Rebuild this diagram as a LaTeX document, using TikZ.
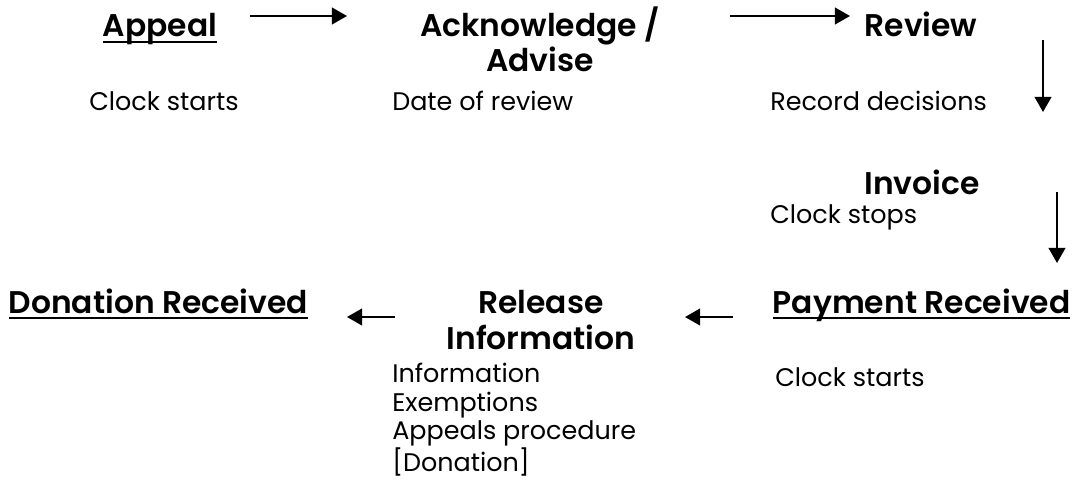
\documentclass[tikz,border=0pt]{standalone}
\usepackage{fontspec}
\setmainfont{Poppins}[BoldFont={Poppins SemiBold}]
\usetikzlibrary{arrows.meta}

\newsavebox{\headbox}
\newcommand{\ulhead}[1]{\sbox{\headbox}{#1}\rlap{\rule[-4pt]{\wd\headbox}{1.4pt}}\usebox{\headbox}}

\begin{document}
\begin{tikzpicture}[ ]
%Declaration of styles
	\tikzstyle{head} = [font=\fontsize{22.3}{25.2}\selectfont\bfseries, anchor=base, inner sep=0pt, align=center] %style for the step titles
	\tikzstyle{note} = [font=\fontsize{18.1}{20.3}\selectfont, anchor=base west, inner sep=0pt, align=left] %style for the notes under a step
	\tikzstyle{arr} = [line width=1.4pt, -{Triangle[length=0.38cm, width=0.42cm]}] %style for the arrows
	\useasboundingbox (0,0) rectangle (26.875,-12.3);
%Nodes, the steps of the procedure (base = last line)
	\node [head] (appeal) at (4.0,-0.925) {\ulhead{Appeal}};
	\node [head] (ack) at (13.5,-1.8) {Acknowledge /\\Advise};
	\node [head] (review) at (23.025,-0.925) {Review};
	\node [head] (invoice) at (23.05,-4.85) {Invoice};
	\node [head] (payment) at (23.04,-7.825) {\ulhead{Payment Received}};
	\node [head] (release) at (13.525,-8.725) {Release\\Information};
	\node [head] (donation) at (3.96,-7.825) {\ulhead{Donation Received}};
%Notes under the steps
	\node [note] (clockA) at (2.225,-2.775) {Clock starts};
	\node [note] (date) at (9.8,-2.775) {Date of review};
	\node [note] (record) at (19.25,-2.775) {Record decisions};
	\node [note] (stops) at (19.25,-5.575) {Clock stops};
	\node [note] (info) at (9.8,-11.79) {Information\\Exemptions\\Appeals procedure\\{[Donation]}};
	\node [note] (clockB) at (19.375,-9.65) {Clock starts};
%Arrows between the steps
	\coordinate (a1) at (6.25,-0.4);   \coordinate (b1) at (8.675,-0.4);
	\coordinate (a2) at (18.25,-0.4);  \coordinate (b2) at (21.25,-0.4);
	\coordinate (a3) at (26.075,-1.0); \coordinate (b3) at (26.075,-2.8);
	\coordinate (a4) at (26.425,-4.8); \coordinate (b4) at (26.425,-6.575);
	\coordinate (a5) at (18.325,-7.925); \coordinate (b5) at (17.125,-7.925);
	\coordinate (a6) at (9.875,-7.925);  \coordinate (b6) at (8.675,-7.925);
	\foreach \i in {1,...,6} {\draw [arr] (a\i) -- (b\i);}
\end{tikzpicture}
\end{document}
